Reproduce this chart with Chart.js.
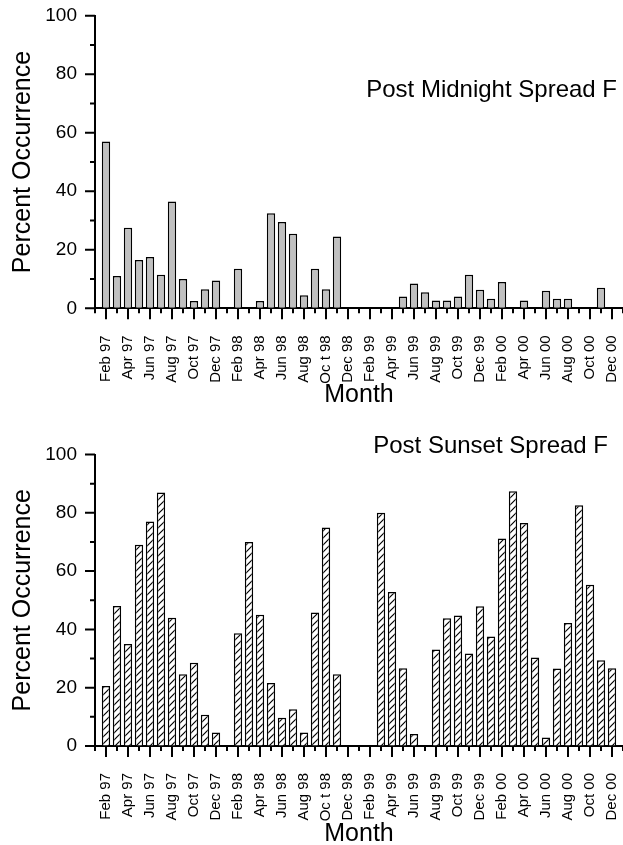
<!DOCTYPE html>
<html>
<head>
<meta charset="utf-8">
<script src="https://cdn.jsdelivr.net/npm/chart.js@4.4.1/dist/chart.umd.min.js"></script>
<style>
  html, body { margin: 0; padding: 0; background: #fff; overflow: hidden; }
  canvas { position: absolute; left: 0; }
  #top { top: 0; }
  #bottom { top: 420px; }
</style>
</head>
<body>
<canvas id="top" width="623" height="420"></canvas>
<canvas id="bottom" width="623" height="430"></canvas>
<script>
// one category per month, Jan 97 .. Jan 01 (first and last are empty edges)
const months = [
    'Jan 97', 'Feb 97', 'Mar 97', 'Apr 97', 'May 97', 'Jun 97', 'Jul 97', 'Aug 97', 'Sep 97', 'Oct 97', 'Nov 97', 'Dec 97',
    'Jan 98', 'Feb 98', 'Mar 98', 'Apr 98', 'May 98', 'Jun 98', 'Jul 98', 'Aug 98', 'Sep 98', 'Oc t 98', 'Nov 98', 'Dec 98',
    'Jan 99', 'Feb 99', 'Mar 99', 'Apr 99', 'May 99', 'Jun 99', 'Jul 99', 'Aug 99', 'Sep 99', 'Oct 99', 'Nov 99', 'Dec 99',
    'Jan 00', 'Feb 00', 'Mar 00', 'Apr 00', 'May 00', 'Jun 00', 'Jul 00', 'Aug 00', 'Sep 00', 'Oct 00', 'Nov 00', 'Dec 00',
    'Jan 01'
];

const postMidnight = [
    null, 57, 11, 27.5, 16.5, 17.5, 11.5, 36.5, 10, 2.5, 6.5, 9.5,
    null, 13.5, null, 2.5, 32.5, 29.5, 25.5, 4.5, 13.5, 6.5, 24.5, null,
    null, null, null, null, 4, 8.5, 5.5, 2.7, 2.7, 4, 11.5, 6.3,
    3.3, 9, null, 2.7, null, 6, 3.3, 3.3, null, null, 7, null,
    null
];

const postSunset = [
    null, 20.6, 48, 35, 69, 77, 87, 44, 24.6, 28.6, 10.7, 4.6,
    null, 38.7, 70, 45, 21.6, 9.7, 12.6, 4.6, 45.8, 75, 24.6, null,
    null, null, 80, 52.8, 26.7, 4.1, null, 33.1, 43.8, 44.8, 31.7, 47.9,
    37.6, 71.2, 87.4, 76.5, 30.4, 2.9, 26.6, 42.2, 82.6, 55.3, 29.4, 26.7,
    null
];

const FONT = '"Liberation Sans", Arial, Helvetica, sans-serif';
Chart.defaults.font.family = FONT;
Chart.defaults.color = '#000';

// major/minor tick marks, drawn outside the plot area
const tickMarks = {
    id: 'tickMarks',
    afterDraw(chart) {
        const { ctx, chartArea, scales: { x, y } } = chart;
        ctx.save();
        ctx.strokeStyle = '#000';
        ctx.lineWidth = 2;
        ctx.beginPath();
        x.ticks.forEach((t, i) => {
            const px = x.getPixelForTick(i);
            const len = i % 2 ? 11 : 5;
            ctx.moveTo(px, chartArea.bottom);
            ctx.lineTo(px, chartArea.bottom + len);
        });
        y.ticks.forEach((t, i) => {
            const py = y.getPixelForTick(i);
            const len = t.value % 20 === 0 ? 10 : 5;
            ctx.moveTo(chartArea.left - len, py);
            ctx.lineTo(chartArea.left, py);
        });
        ctx.stroke();
        ctx.restore();
    }
};

const panelLabel = {
    id: 'panelLabel',
    afterDraw(chart, args, opts) {
        const ctx = chart.ctx;
        ctx.save();
        ctx.font = '24px ' + FONT;
        ctx.fillStyle = '#000';
        ctx.textAlign = 'right';
        ctx.textBaseline = 'alphabetic';
        ctx.fillText(opts.text, opts.x, opts.y);
        ctx.restore();
    }
};

const hatchPattern = () => {
    const c = document.createElement('canvas');
    c.width = 7;
    c.height = 7;
    const g = c.getContext('2d');
    g.fillStyle = '#fff';
    g.fillRect(0, 0, 7, 7);
    g.strokeStyle = '#000';
    g.lineWidth = 1.2;
    g.beginPath();
    g.moveTo(-1, 8); g.lineTo(8, -1);
    g.moveTo(-1, 1); g.lineTo(1, -1);
    g.moveTo(6, 8); g.lineTo(8, 6);
    g.stroke();
    return g.createPattern(c, 'repeat');
};

const axisGrid = {
    display: true,
    drawOnChartArea: false,
    drawTicks: true,
    tickLength: 10,
    color: 'rgba(0,0,0,0)'
};

function makeChart(id, values, fill, cfg) {
    return new Chart(document.getElementById(id), {
        type: 'bar',
        data: {
            labels: months,
            datasets: [{
                data: values,
                backgroundColor: fill,
                borderColor: '#000',
                borderWidth: 1.5,
                borderSkipped: 'start',
                barPercentage: 0.76,
                categoryPercentage: 1
            }]
        },
        options: {
            responsive: false,
            animation: false,
            devicePixelRatio: 1,
            layout: { padding: { top: cfg.padTop, left: 0, right: 0, bottom: 0 } },
            plugins: {
                legend: { display: false },
                tooltip: { enabled: false },
                panelLabel: cfg.label
            },
            scales: {
                x: {
                    offset: false,
                    grid: axisGrid,
                    border: { display: true, color: '#000', width: 2 },
                    ticks: {
                        autoSkip: false,
                        minRotation: 90,
                        maxRotation: 90,
                        padding: 17,
                        font: { size: 15 },
                        callback: (v, i) => (i % 2 ? months[i] : '')
                    },
                    title: {
                        display: true,
                        text: 'Month',
                        font: { size: 25 },
                        padding: { top: 0, bottom: cfg.monthPad }
                    },
                    afterFit: s => {
                        s.height = cfg.xHeight;
                        s.paddingLeft = 0;
                        s.paddingRight = 0;
                    }
                },
                y: {
                    min: 0,
                    max: 100,
                    grid: axisGrid,
                    border: { display: true, color: '#000', width: 2 },
                    ticks: {
                        stepSize: 10,
                        padding: 8,
                        font: { size: 19 },
                        callback: v => (v % 20 === 0 ? v : '')
                    },
                    title: {
                        display: true,
                        text: 'Percent Occurrence',
                        font: { size: 25 },
                        padding: { top: 8, bottom: 0 }
                    },
                    afterFit: s => {
                        s.width = 95;
                        s.paddingTop = 0;
                        s.paddingBottom = 0;
                    }
                }
            }
        },
        plugins: [tickMarks, panelLabel]
    });
}

makeChart('top', postMidnight, '#c0c0c0', {
    padTop: 15.7,
    xHeight: 420 - 308.3,
    monthPad: 10,
    label: { text: 'Post Midnight Spread F', x: 617, y: 96.5 }
});

makeChart('bottom', postSunset, hatchPattern(), {
    padTop: 34.5,
    xHeight: 430 - 326,
    monthPad: 1,
    label: { text: 'Post Sunset Spread F', x: 608, y: 33 }
});
</script>
</body>
</html>
